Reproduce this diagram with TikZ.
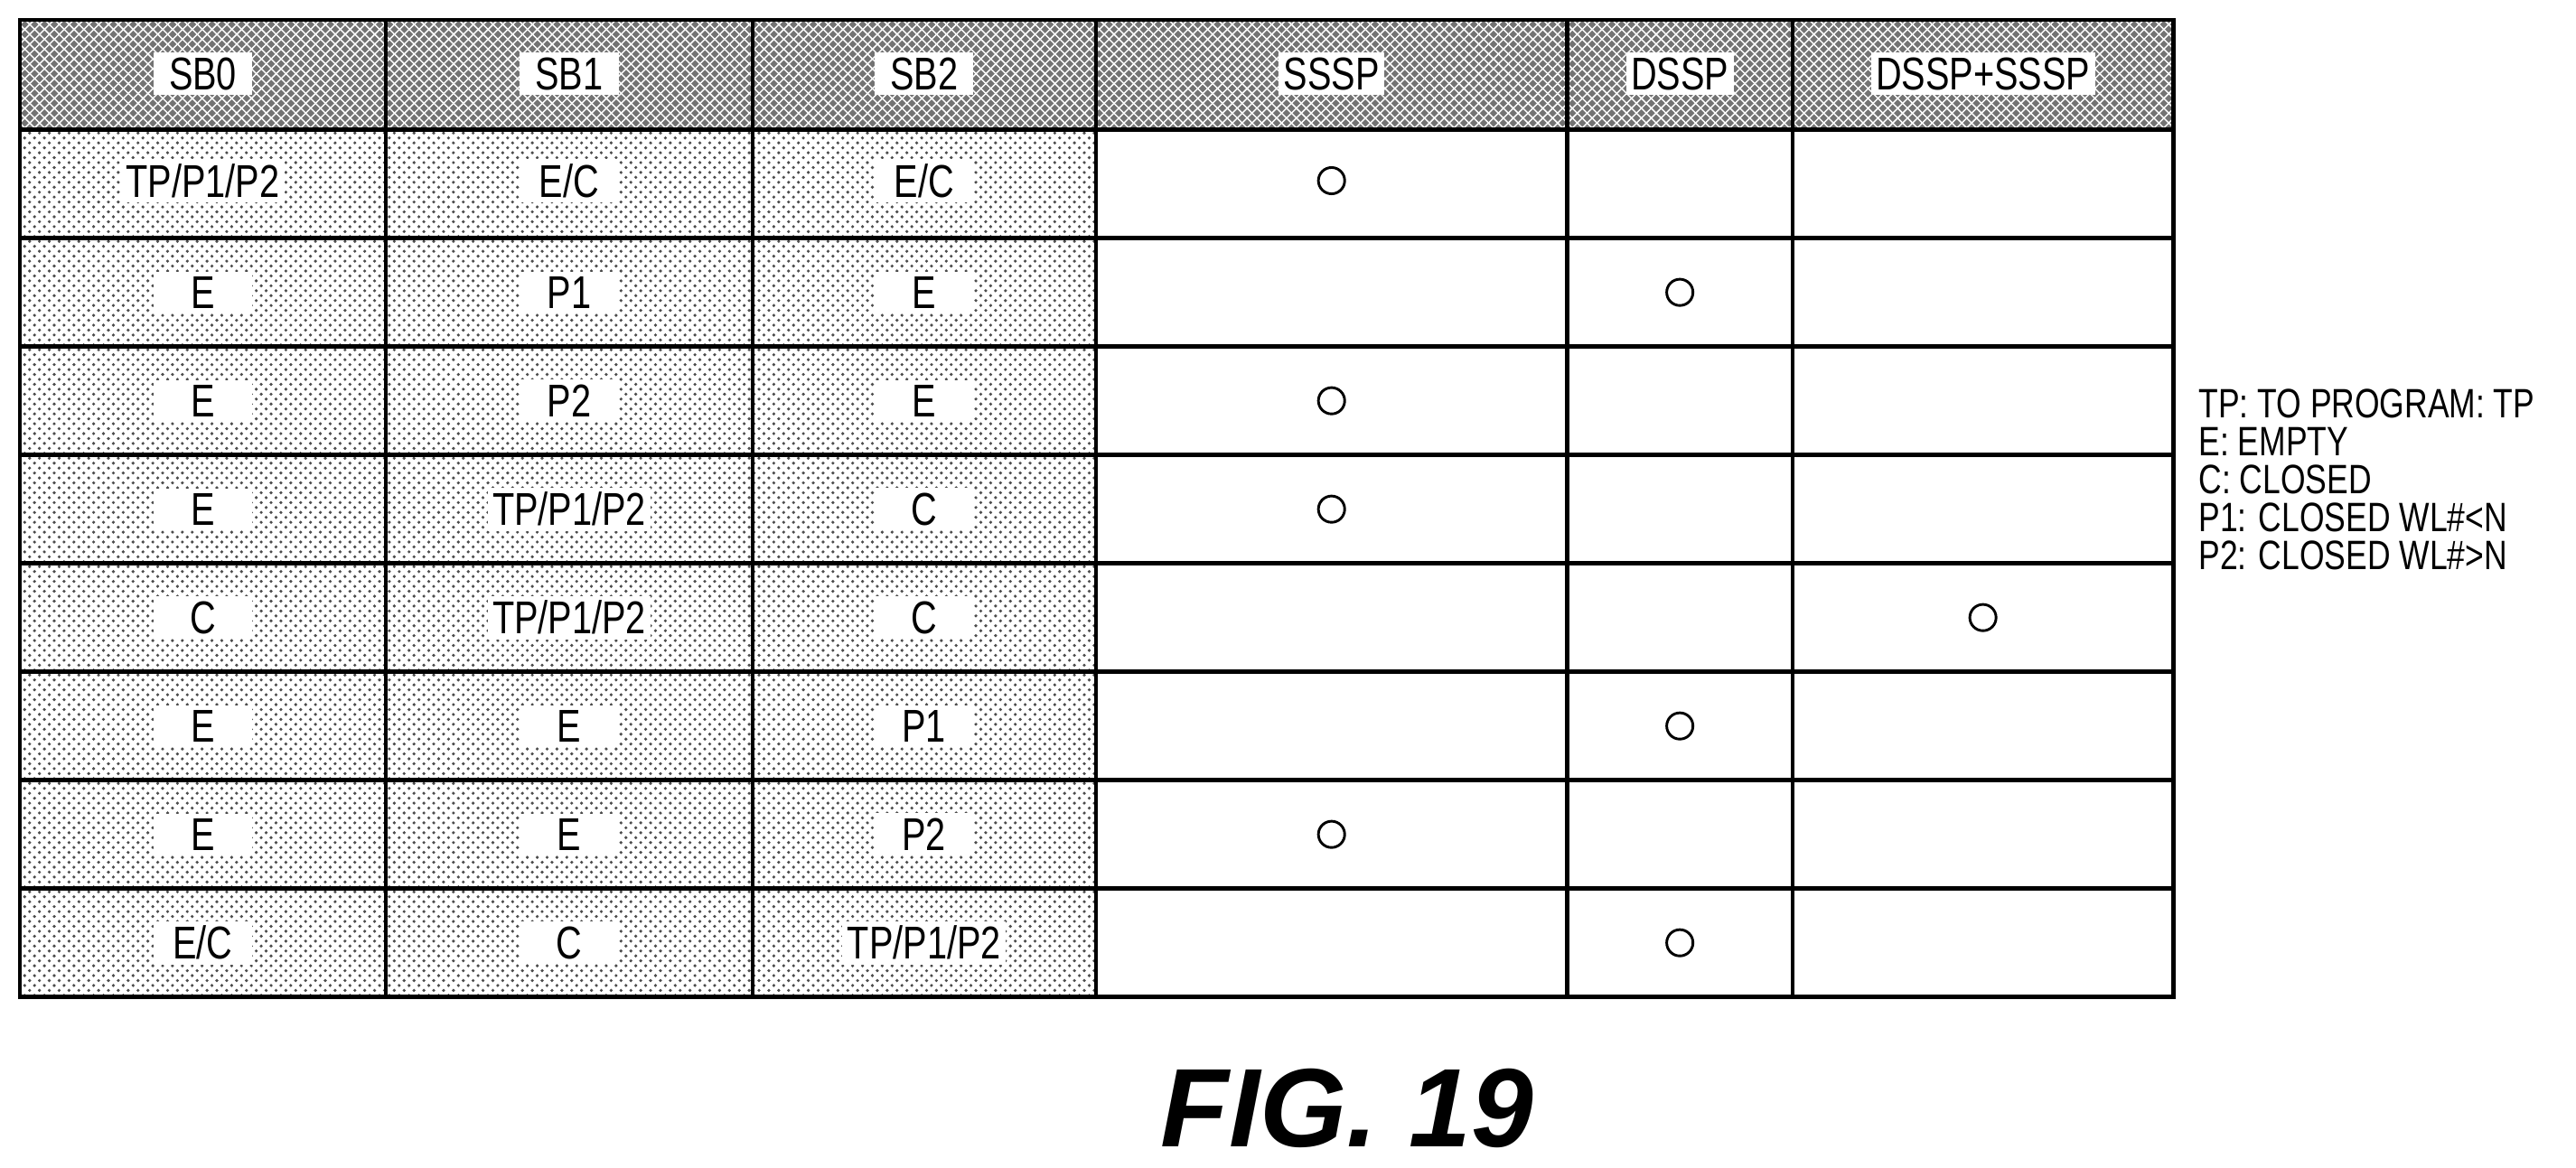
\documentclass[tikz,border=0pt]{standalone}
\usepackage{fontspec}
\setmainfont{Liberation Sans}
\newfontfamily\narrowfont[FakeStretch=0.78]{Liberation Sans}
\usetikzlibrary{patterns}
\begin{document}
\begin{tikzpicture}[x=0.5pt,y=-0.5pt,
  lbl/.style={fill=white,inner sep=1.5pt,minimum width=30pt,font=\narrowfont\fontsize{14}{16}\selectfont},
  legend/.style={anchor=west,inner sep=0pt,font=\narrowfont\fontsize{12.5}{14}\selectfont},
  mark0/.style={circle,draw,line width=0.8pt,minimum size=8pt,inner sep=0pt}]
\useasboundingbox (0,0) rectangle (1568,711);
% header
\fill[black!55] (12,12) rectangle (1323,79);
\fill[pattern=crosshatch,pattern color=white] (12,12) rectangle (1323,79);
% shaded body cols
\fill[pattern=crosshatch dots,pattern color=black!70] (12,79) rectangle (667,607);
% grid
\draw[line width=1.2pt] (12,12) rectangle (1323,607);
\foreach \x in {235,458,667,954,1091} \draw[line width=1.2pt] (\x,12) -- (\x,607);
\foreach \y in {79,145,211,277,343,409,475,541} \draw[line width=1.2pt] (12,\y) -- (1323,\y);
% headers
\node[lbl] (h0) at (123.5,45) {SB0};
\node[lbl] (h1) at (346.5,45) {SB1};
\node[lbl] (h2) at (562.5,45) {SB2};
\node[lbl] (h3) at (810.5,45) {SSSP};
\node[lbl] (h4) at (1022.5,45) {DSSP};
\node[lbl] (h5) at (1207,45) {DSSP+SSSP};
% rows
\foreach \r/\a/\b/\c/\m in {1/TP\slash P1\slash P2/E\slash C/E\slash C/810.5,
  2/E/P1/E/1022.5, 3/E/P2/E/810.5, 4/E/TP\slash P1\slash P2/C/810.5,
  5/C/TP\slash P1\slash P2/C/1207, 6/E/E/P1/1022.5, 7/E/E/P2/810.5,
  8/E\slash C/C/TP\slash P1\slash P2/1022.5}{
  \pgfmathsetmacro\yy{79+66*(\r-0.5)+(\r==1?-2:0)}
  \node[lbl] (a\r) at (123.5,\yy) {\a};
  \node[lbl] (b\r) at (346.5,\yy) {\b};
  \node[lbl] (c\r) at (562.5,\yy) {\c};
  \node[mark0] (m\r) at (\m,\yy) {};
}
% legend
\node[legend] (l1) at (1338,246) {TP: TO PROGRAM: TP};
\node[legend] (l2) at (1338,269) {E: EMPTY};
\node[legend] (l3) at (1338,292) {C: CLOSED};
\node[legend] (l4) at (1338,315) {P1: CLOSED WL\#<N};
\node[legend] (l5) at (1338,338) {P2: CLOSED WL\#>N};
\node[font=\fontsize{34}{40}\selectfont\bfseries\itshape] (fig) at (820,675) {FIG. 19};
\end{tikzpicture}
\end{document}
